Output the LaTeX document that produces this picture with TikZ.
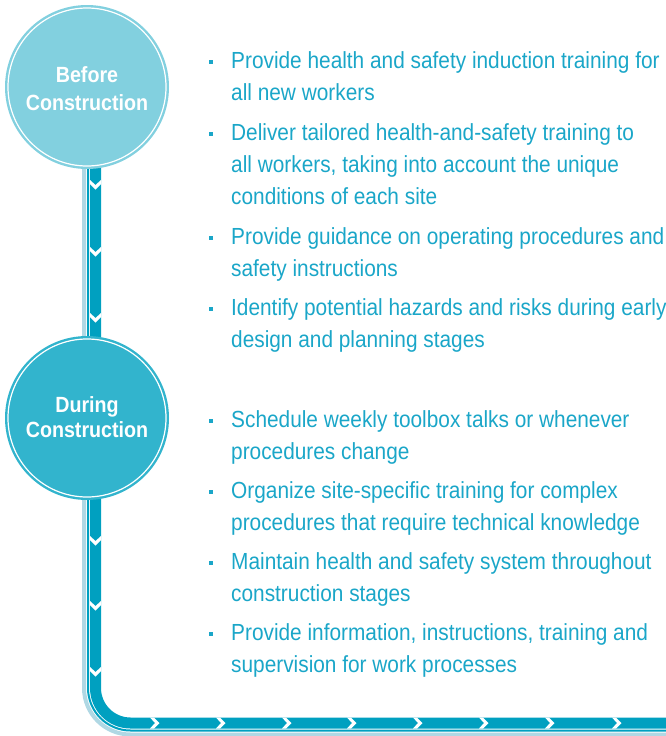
\documentclass[tikz,border=0pt]{standalone}
\usepackage{fontspec}
\setmainfont{Liberation Sans}[FakeStretch=0.894]
\definecolor{txt}{RGB}{26,166,200}
\definecolor{cone}{RGB}{130,208,223}
\definecolor{ctwo}{RGB}{50,180,205}
\definecolor{pdark}{RGB}{0,160,192}
\definecolor{plight}{RGB}{176,216,228}
\tikzset{
  itemtext/.style={anchor=base west, inner sep=0pt, text=txt, font=\fontsize{23.3}{28}\selectfont},
  circtext/.style={anchor=base, inner sep=0pt, text=white, font=\bfseries\fontsize{22}{26}\selectfont},
  bulletsq/.style={fill=txt, minimum size=4pt, inner sep=0pt},
  pics/chevd/.style={code={\fill[white] (-5.5,-5) -- (0,0) -- (5.5,-5) -- (5.5,-1) -- (0,4.5) -- (-5.5,-1) -- cycle;}},
  pics/chevr/.style={code={\fill[white] (-5,-5.5) -- (0,0) -- (-5,5.5) -- (-1,5.5) -- (4.5,0) -- (-1,-5.5) -- cycle;}},
}
\begin{document}
\begin{tikzpicture}[x=1pt,y=-1pt]
\useasboundingbox (0,0) rectangle (666,736);
% pipe
\draw[plight, line width=4pt, rounded corners=46.5pt] (84,80) -- (84,734.5) -- (700,734.5);
\draw[pdark, line width=2pt, rounded corners=42.5pt] (88,80) -- (88,730.5) -- (700,730.5);
\draw[pdark, line width=11pt, rounded corners=35pt] (95.5,80) -- (95.5,723) -- (700,723);
% chevrons
\foreach \yy in {185,252,318,541,606,672} \pic at (95.5,\yy) {chevd};
\foreach \xx in {155,221,287,352,418,484,550,617} \pic at (\xx,723) {chevr};
% circles
\node[circle, fill=cone, minimum size=164pt, inner sep=0pt] (before) at (87,87) {};
\draw[white, line width=1.2pt] (before.center) circle[radius=79pt];
\node[circle, fill=ctwo, minimum size=164pt, inner sep=0pt] (during) at (87,418) {};
\draw[white, line width=1.2pt] (during.center) circle[radius=79pt];
\node[circtext] (b1) at (87,82) {Before};
\node[circtext] (b2) at (87,110) {Construction};
\node[circtext] (d1) at (87,412) {During};
\node[circtext] (d2) at (87,437) {Construction};
% bullets
\foreach \by [count=\i] in {68,140,244,315,427,498,569,640}
  \node[bulletsq] (bul\i) at (211,\by-6.5) {};
% text
\node[itemtext] (t1) at (231,68) {Provide health and safety induction training for};
\node[itemtext] (t2) at (231,100) {all new workers};
\node[itemtext] (t3) at (231,140) {Deliver tailored health-and-safety training to};
\node[itemtext] (t4) at (231,172) {all workers, taking into account the unique};
\node[itemtext] (t5) at (231,204) {conditions of each site};
\node[itemtext] (t6) at (231,244) {Provide guidance on operating procedures and};
\node[itemtext] (t7) at (231,276) {safety instructions};
\node[itemtext] (t8) at (231,315) {Identify potential hazards and risks during early};
\node[itemtext] (t9) at (231,347) {design and planning stages};
\node[itemtext] (t10) at (231,427) {Schedule weekly toolbox talks or whenever};
\node[itemtext] (t11) at (231,459) {procedures change};
\node[itemtext] (t12) at (231,498) {Organize site-specific training for complex};
\node[itemtext] (t13) at (231,530) {procedures that require technical knowledge};
\node[itemtext] (t14) at (231,569) {Maintain health and safety system throughout};
\node[itemtext] (t15) at (231,601) {construction stages};
\node[itemtext] (t16) at (231,640) {Provide information, instructions, training and};
\node[itemtext] (t17) at (231,672) {supervision for work processes};
\end{tikzpicture}
\end{document}
